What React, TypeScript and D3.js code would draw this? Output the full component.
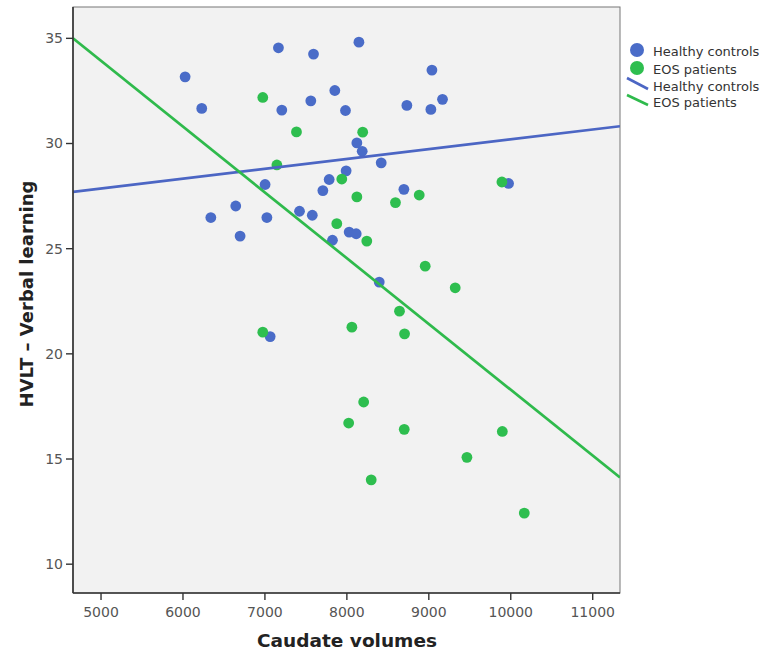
import React from "react";
import * as d3 from "d3";

const healthyX = [6026, 6229, 7165, 7593, 8147, 9038, 9167, 8732, 9025, 7853, 7560, 7206, 7983, 8122, 8187, 8419, 7991, 7784, 7707, 7002, 8696, 6644, 6340, 7024, 7422, 7578, 6697, 7824, 8028, 8114, 8395, 7064, 9973];
const healthyY = [33.17, 31.67, 34.55, 34.25, 34.82, 33.49, 32.1, 31.81, 31.62, 32.52, 32.03, 31.59, 31.57, 30.03, 29.63, 29.08, 28.7, 28.29, 27.76, 28.05, 27.82, 27.03, 26.48, 26.48, 26.78, 26.59, 25.6, 25.4, 25.79, 25.71, 23.41, 20.82, 28.1];
const eosX = [6974, 7385, 8193, 7146, 7938, 8122, 8593, 8883, 9892, 7877, 8243, 8956, 9322, 8642, 6974, 8061, 8704, 8205, 8022, 8700, 9897, 9465, 8297, 10165];
const eosY = [32.19, 30.55, 30.54, 28.98, 28.31, 27.46, 27.19, 27.55, 28.17, 26.19, 25.36, 24.17, 23.14, 22.03, 21.03, 21.27, 20.95, 17.71, 16.71, 16.41, 16.31, 15.08, 14.01, 12.43];

// fitted line values at the two ends of the x domain
const xDomain = [4658, 11333];
const yDomain = [8.63, 36.49];
const healthyFit = [27.7, 30.82];
const eosFit = [35.0, 14.12];

const xTicks = [5000, 6000, 7000, 8000, 9000, 10000, 11000];
const yTicks = [10, 15, 20, 25, 30, 35];

const legendLabels = ["Healthy controls", "EOS patients", "Healthy controls", "EOS patients"];

const BLUE = "#4a6cc8";
const GREEN = "#2ebe4f";
const BLUE_LINE = "#4c66c4";
const GREEN_LINE = "#2fba4c";

export default function App() {
  const left = 73, right = 620, top = 7, bottom = 593;
  const x = d3.scaleLinear().domain(xDomain).range([left, right]);
  const y = d3.scaleLinear().domain(yDomain).range([bottom, top]);
  const line = d3.line<[number, number]>().x((d) => x(d[0])).y((d) => y(d[1]));
  const font = "'DejaVu Sans', sans-serif";

  return (
    <svg width={768} height={652} style={{ position: "absolute", left: 0, top: 0, background: "#fff" }}>
      <defs>
        <clipPath id="plot">
          <rect x={left} y={top} width={right - left} height={bottom - top} />
        </clipPath>
      </defs>
      <rect x={left} y={top} width={right - left} height={bottom - top} fill="#f2f2f2" stroke="#777" strokeWidth={1} />
      <g clipPath="url(#plot)">
        {healthyX.map((v, i) => (
          <circle key={"h" + i} cx={x(v)} cy={y(healthyY[i])} r={5.4} fill={BLUE} />
        ))}
        {eosX.map((v, i) => (
          <circle key={"e" + i} cx={x(v)} cy={y(eosY[i])} r={5.4} fill={GREEN} />
        ))}
        <path d={line([[xDomain[0], healthyFit[0]], [xDomain[1], healthyFit[1]]]) || ""} stroke={BLUE_LINE} strokeWidth={2.7} fill="none" />
        <path d={line([[xDomain[0], eosFit[0]], [xDomain[1], eosFit[1]]]) || ""} stroke={GREEN_LINE} strokeWidth={2.7} fill="none" />
      </g>
      <line x1={left} x2={left} y1={top} y2={bottom} stroke="#333" strokeWidth={1.6} />
      <line x1={left} x2={right} y1={bottom} y2={bottom} stroke="#333" strokeWidth={1.6} />
      {yTicks.map((t) => (
        <g key={"y" + t}>
          <line x1={left - 7} x2={left} y1={y(t)} y2={y(t)} stroke="#333" strokeWidth={1.4} />
          <text x={left - 10} y={y(t)} dy="0.35em" textAnchor="end" fontSize={14} fontFamily={font} fill="#555">{t}</text>
        </g>
      ))}
      {xTicks.map((t) => (
        <g key={"x" + t}>
          <line x1={x(t)} x2={x(t)} y1={bottom} y2={bottom + 7} stroke="#333" strokeWidth={1.4} />
          <text x={x(t)} y={617} textAnchor="middle" fontSize={14} fontFamily={font} fill="#555">{t}</text>
        </g>
      ))}
      <text x={347} y={647} textAnchor="middle" fontSize={18.5} fontWeight="bold" fontFamily={font} fill="#222">Caudate volumes</text>
      <text transform="translate(33,294) rotate(-90)" textAnchor="middle" fontSize={18} fontWeight="bold" fontFamily={font} fill="#222">HVLT – Verbal learning</text>
      <circle cx={637} cy={50} r={7} fill={BLUE} />
      <circle cx={637} cy={68} r={7} fill={GREEN} />
      <line x1={627} y1={78} x2={648} y2={89} stroke={BLUE_LINE} strokeWidth={2.6} />
      <line x1={627} y1={95} x2={648} y2={105} stroke={GREEN_LINE} strokeWidth={2.6} />
      {legendLabels.map((l, i) => (
        <text key={"l" + i} x={653} y={[51, 69, 86, 102][i]} dy="0.35em" fontSize={13} fontFamily={font} fill="#333">{l}</text>
      ))}
    </svg>
  );
}
